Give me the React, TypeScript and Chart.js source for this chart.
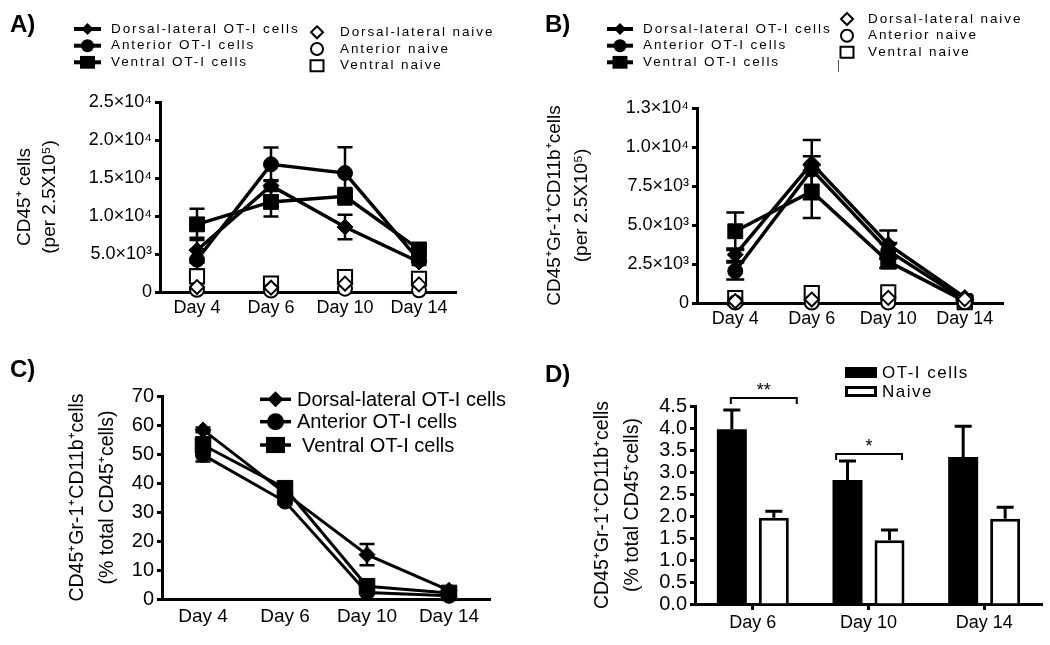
import React, { useEffect, useRef } from 'react';
import { Chart, registerables } from 'chart.js';

Chart.register(...registerables);

const FONT = '"Liberation Sans", Arial, Helvetica, sans-serif';

// ---------- categories ----------
const lineDays = ['Day 4', 'Day 6', 'Day 10', 'Day 14'];
const barDays = ['Day 6', 'Day 10', 'Day 14'];

// ---------- Panel A : CD45+ cells (per 2.5X10^5) ----------
const aDorsalOT = [5500, 14000, 8550, 3950];
const aDorsalOTErr = [1650, 700, 1600, 400];
const aAnteriorOT = [4250, 16800, 15650, 4200];
const aAnteriorOTErr = [1300, 2200, 3400, 400];
const aVentralOT = [8900, 11850, 12600, 5600];
const aVentralOTErr = [2050, 1900, 1100, 800];
const aDorsalNaive = [650, 570, 1100, 1000];
const aAnteriorNaive = [300, 200, 440, 220];
const aVentralNaive = [2060, 1100, 1970, 1750];
const aTickValues = [0, 5000, 10000, 15000, 20000, 25000];
const aTickLabels = ['0', '5.0×10³', '1.0×10⁴', '1.5×10⁴', '2.0×10⁴', '2.5×10⁴'];

// ---------- Panel B : CD45+Gr-1+CD11b+ cells (per 2.5X10^5) ----------
const bDorsalOT = [3100, 8950, 3750, 350];
const bDorsalOTErr = [400, 450, 900, 100];
const bAnteriorOT = [2050, 8550, 3350, 200];
const bAnteriorOTErr = [550, 1900, 500, 100];
const bVentralOT = [4600, 7150, 2650, 120];
const bVentralOTErr = [1200, 1700, 400, 100];
const bDorsalNaive = [120, 220, 330, 250];
const bAnteriorNaive = [30, 30, 30, 50];
const bVentralNaive = [320, 640, 680, 60];
const bTickValues = [0, 2500, 5000, 7500, 10000, 12500];
const bTickLabels = ['0', '2.5×10³', '5.0×10³', '7.5×10³', '1.0×10⁴', '1.3×10⁴'];

// ---------- Panel C : % of total CD45+ cells ----------
const cDorsalOT = [58.3, 36.5, 15.3, 3.0];
const cDorsalOTErr = [0.8, 1.0, 3.7, 0.5];
const cAnteriorOT = [49.7, 33.6, 2.2, 1.1];
const cAnteriorOTErr = [2.3, 1.0, 0.6, 0.3];
const cVentralOT = [53.1, 38.2, 4.4, 2.1];
const cVentralOTErr = [2.7, 1.0, 0.8, 0.4];
const cTickValues = [0, 10, 20, 30, 40, 50, 60, 70];
const cTickLabels = ['0', '10', '20', '30', '40', '50', '60', '70'];

// ---------- Panel D : bars ----------
const dOT = [3.97, 2.82, 3.34];
const dOTErr = [0.44, 0.43, 0.7];
const dNaive = [1.96, 1.45, 1.94];
const dNaiveErr = [0.15, 0.23, 0.26];
const dTickValues = [0, 0.5, 1, 1.5, 2, 2.5, 3, 3.5, 4, 4.5];
const dTickLabels = ['0.0', '0.5', '1.0', '1.5', '2.0', '2.5', '3.0', '3.5', '4.0', '4.5'];
const dSigText = ['**', '*'];
const dSigFrom = [-0.19, 0.72];
const dSigTo = [0.38, 1.29];
const dSigY = [4.68, 3.41];

// ---------- helpers ----------
function lineSet(label: string, data: number[], errors: number[] | null, pointStyle: string, radius: number, filled: boolean, order: number, showLine: boolean, lineWidth: number) {
  return {
    type: 'line',
    label,
    data,
    errors,
    showLine,
    borderColor: '#000',
    borderWidth: lineWidth,
    pointStyle,
    pointRadius: radius,
    pointHoverRadius: radius,
    pointBackgroundColor: filled ? '#000' : '#fff',
    pointBorderColor: '#000',
    pointBorderWidth: filled ? 1 : 2,
    tension: 0,
    clip: false,
    fill: false,
    order,
  };
}

function yScale(o: { values: number[]; labels: string[]; width: number; title: string[]; titleSize: number; titleLH: number; titlePad: number; tickSize: number }) {
  return {
    type: 'linear',
    min: o.values[0],
    max: o.values[o.values.length - 1],
    afterBuildTicks: (s: any) => {
      s.ticks = o.values.map((v) => ({ value: v }));
    },
    afterFit: (s: any) => {
      s.width = o.width;
    },
    ticks: {
      autoSkip: false,
      color: '#000',
      padding: 3,
      font: { family: FONT, size: o.tickSize },
      callback: (v: number) => {
        const i = o.values.indexOf(v);
        return i >= 0 ? o.labels[i] : '';
      },
    },
    grid: { display: true, drawOnChartArea: false, drawTicks: true, tickLength: 5, tickWidth: 3, tickColor: '#000' },
    border: { display: true, color: '#000', width: 3 },
    title: {
      display: true,
      text: o.title,
      color: '#000',
      font: { family: FONT, size: o.titleSize, lineHeight: o.titleLH },
      padding: { top: o.titlePad, bottom: 0 },
    },
  };
}

function xScale(o: { height: number; size: number; padding: number; ticks: boolean }) {
  return {
    type: 'category',
    offset: true,
    afterFit: (s: any) => {
      s.height = o.height;
    },
    ticks: { color: '#000', padding: o.padding, maxRotation: 0, autoSkip: false, font: { family: FONT, size: o.size } },
    grid: { display: true, offset: false, drawOnChartArea: false, drawTicks: o.ticks, tickLength: 6, tickWidth: 3, tickColor: '#000' },
    border: { display: true, color: '#000', width: 3 },
  };
}

function drawErrors(chart: any, mode: 'both' | 'up', capHalf: number, lw: number) {
  const ctx = chart.ctx;
  const ys = chart.scales.y;
  chart.data.datasets.forEach((ds: any, di: number) => {
    const errs = ds.errors;
    if (!errs) return;
    const meta = chart.getDatasetMeta(di);
    meta.data.forEach((el: any, i: number) => {
      const v = ds.data[i];
      const e = errs[i];
      if (!e) return;
      const x = el.x;
      const yTop = ys.getPixelForValue(v + e);
      const yBot = mode === 'up' ? ys.getPixelForValue(v) : ys.getPixelForValue(v - e);
      ctx.save();
      ctx.strokeStyle = '#000';
      ctx.lineWidth = lw;
      ctx.beginPath();
      ctx.moveTo(x, yTop);
      ctx.lineTo(x, yBot);
      ctx.moveTo(x - capHalf, yTop);
      ctx.lineTo(x + capHalf, yTop);
      if (mode === 'both') {
        ctx.moveTo(x - capHalf, yBot);
        ctx.lineTo(x + capHalf, yBot);
      }
      ctx.stroke();
      ctx.restore();
    });
  });
}

function glyph(ctx: CanvasRenderingContext2D, style: string, x: number, y: number, s: number, filled: boolean, lw: number) {
  ctx.beginPath();
  if (style === 'rectRot') {
    ctx.moveTo(x, y - s);
    ctx.lineTo(x + s, y);
    ctx.lineTo(x, y + s);
    ctx.lineTo(x - s, y);
    ctx.closePath();
  } else if (style === 'circle') {
    ctx.arc(x, y, s, 0, Math.PI * 2);
  } else {
    ctx.rect(x - s, y - s * 0.85, 2 * s, 1.7 * s);
  }
  if (filled) {
    ctx.fillStyle = '#000';
    ctx.fill();
  } else {
    ctx.fillStyle = '#fff';
    ctx.fill();
    ctx.lineWidth = lw;
    ctx.strokeStyle = '#000';
    ctx.stroke();
  }
}

function letter(ctx: CanvasRenderingContext2D, t: string, x: number, y: number) {
  ctx.save();
  ctx.font = `bold 24px ${FONT}`;
  ctx.fillStyle = '#000';
  ctx.textBaseline = 'alphabetic';
  ctx.textAlign = 'left';
  ctx.fillText(t, x, y);
  ctx.restore();
}

function prismLegend(chart: any, L: { x0: number; x1: number; tx: number; rows: number[]; mx: number; mtx: number; mrows: number[] }) {
  const ctx: CanvasRenderingContext2D = chart.ctx;
  const ds = chart.data.datasets;
  ctx.save();
  ctx.font = `13.5px ${FONT}`;
  (ctx as any).letterSpacing = '1.9px';
  ctx.textBaseline = 'middle';
  ctx.textAlign = 'left';
  const sizes: Record<string, number> = { rectRot: 6, circle: 6.5, rect: 7.5 };
  for (let i = 0; i < 3; i++) {
    const d = ds[i];
    const y = L.rows[i];
    ctx.strokeStyle = '#000';
    ctx.lineWidth = 4;
    ctx.beginPath();
    ctx.moveTo(L.x0, y);
    ctx.lineTo(L.x1, y);
    ctx.stroke();
    glyph(ctx, d.pointStyle, (L.x0 + L.x1) / 2, y, sizes[d.pointStyle], true, 1);
    ctx.fillStyle = '#000';
    ctx.fillText(d.label, L.tx, y);
  }
  const osizes: Record<string, number> = { rectRot: 6, circle: 6, rect: 6.5 };
  for (let i = 0; i < 3; i++) {
    const d = ds[3 + i];
    const y = L.mrows[i];
    glyph(ctx, d.pointStyle, L.mx, y, osizes[d.pointStyle], false, 2);
    ctx.fillStyle = '#000';
    ctx.fillText(d.label, L.mtx, y);
  }
  ctx.restore();
}

function lineOverlay(capHalf: number, extra: (chart: any) => void) {
  return {
    id: 'overlay',
    beforeDatasetsDraw(chart: any) {
      drawErrors(chart, 'both', capHalf, 2.5);
    },
    afterDraw(chart: any) {
      extra(chart);
    },
  };
}

// ---------- chart builders ----------
function buildA() {
  return {
    type: 'line',
    data: {
      labels: lineDays,
      datasets: [
        lineSet('Dorsal-lateral OT-I cells', aDorsalOT, aDorsalOTErr, 'rectRot', 8, true, 4, true, 3.5),
        lineSet('Anterior OT-I cells', aAnteriorOT, aAnteriorOTErr, 'circle', 7.5, true, 5, true, 3.5),
        lineSet('Ventral OT-I cells', aVentralOT, aVentralOTErr, 'rect', 10.5, true, 6, true, 3.5),
        lineSet('Dorsal-lateral naive', aDorsalNaive, null, 'rectRot', 7, false, 1, false, 2),
        lineSet('Anterior naive', aAnteriorNaive, null, 'circle', 7, false, 2, false, 2),
        lineSet('Ventral naive', aVentralNaive, null, 'rect', 10, false, 3, false, 2),
      ],
    },
    options: {
      animation: false,
      responsive: false,
      events: [],
      layout: { padding: { left: 0, top: 102, right: 64, bottom: 0 } },
      plugins: { legend: { display: false }, tooltip: { enabled: false } },
      scales: {
        x: xScale({ height: 28, size: 18, padding: 5, ticks: false }),
        y: yScale({ values: aTickValues, labels: aTickLabels, width: 160, title: ['CD45⁺ cells', '(per 2.5X10⁵)'], titleSize: 19, titleLH: 25 / 19, titlePad: 12.5, tickSize: 18 }),
      },
    },
    plugins: [
      lineOverlay(7.5, (chart) => {
        letter(chart.ctx, 'A)', 10, 32);
        prismLegend(chart, { x0: 74, x1: 101, tx: 111, rows: [29, 45.7, 62.3], mx: 317, mtx: 340, mrows: [32.3, 49, 65.7] });
      }),
    ],
  };
}

function buildB() {
  return {
    type: 'line',
    data: {
      labels: lineDays,
      datasets: [
        lineSet('Dorsal-lateral OT-I cells', bDorsalOT, bDorsalOTErr, 'rectRot', 8, true, 4, true, 3.5),
        lineSet('Anterior OT-I cells', bAnteriorOT, bAnteriorOTErr, 'circle', 7.5, true, 5, true, 3.5),
        lineSet('Ventral OT-I cells', bVentralOT, bVentralOTErr, 'rect', 10.5, true, 6, true, 3.5),
        lineSet('Dorsal-lateral naive', bDorsalNaive, null, 'rectRot', 7, false, 1, false, 2),
        lineSet('Anterior naive', bAnteriorNaive, null, 'circle', 7, false, 2, false, 2),
        lineSet('Ventral naive', bVentralNaive, null, 'rect', 10, false, 3, false, 2),
      ],
    },
    options: {
      animation: false,
      responsive: false,
      events: [],
      layout: { padding: { left: 0, top: 108, right: 47, bottom: 0 } },
      plugins: { legend: { display: false }, tooltip: { enabled: false } },
      scales: {
        x: xScale({ height: 37, size: 18, padding: 5, ticks: false }),
        y: yScale({ values: bTickValues, labels: bTickLabels, width: 177, title: ['CD45⁺Gr-1⁺CD11b⁺cells', '(per 2.5X10⁵)'], titleSize: 19, titleLH: 27 / 19, titlePad: 21.5, tickSize: 18 }),
      },
    },
    plugins: [
      lineOverlay(9, (chart) => {
        letter(chart.ctx, 'B)', 25, 32);
        prismLegend(chart, { x0: 87, x1: 113, tx: 123, rows: [29, 45.7, 62.3], mx: 327, mtx: 348, mrows: [19, 35.7, 52.3] });
        const ctx = chart.ctx;
        ctx.save();
        ctx.strokeStyle = '#555';
        ctx.lineWidth = 1;
        ctx.beginPath();
        ctx.moveTo(318.5, 60);
        ctx.lineTo(318.5, 72);
        ctx.stroke();
        ctx.restore();
      }),
    ],
  };
}

function buildC() {
  return {
    type: 'line',
    data: {
      labels: lineDays,
      datasets: [
        lineSet('Dorsal-lateral OT-I cells', cDorsalOT, cDorsalOTErr, 'rectRot', 8, true, 1, true, 3),
        lineSet('Anterior OT-I cells', cAnteriorOT, cAnteriorOTErr, 'circle', 7.5, true, 2, true, 3),
        lineSet('Ventral OT-I cells', cVentralOT, cVentralOTErr, 'rect', 11, true, 3, true, 3),
      ],
    },
    options: {
      animation: false,
      responsive: false,
      events: [],
      layout: { padding: { left: 0, top: 76, right: 30, bottom: 0 } },
      plugins: { legend: { display: false }, tooltip: { enabled: false } },
      scales: {
        x: xScale({ height: 46, size: 19, padding: 6, ticks: false }),
        y: yScale({ values: cTickValues, labels: cTickLabels, width: 162, title: ['CD45⁺Gr-1⁺CD11b⁺cells', '(% total CD45⁺cells)'], titleSize: 19.5, titleLH: 30 / 19.5, titlePad: 63, tickSize: 20 }),
      },
    },
    plugins: [
      lineOverlay(7.5, (chart) => {
        const ctx: CanvasRenderingContext2D = chart.ctx;
        letter(ctx, 'C)', 10, 57);
        const ds = chart.data.datasets;
        const rows = [79.3, 101.7, 125];
        const sizes: Record<string, number> = { rectRot: 8, circle: 8.5, rect: 9.5 };
        ctx.save();
        ctx.font = `20px ${FONT}`;
        ctx.textBaseline = 'middle';
        ctx.textAlign = 'left';
        for (let i = 0; i < 3; i++) {
          const y = rows[i];
          ctx.strokeStyle = '#000';
          ctx.lineWidth = 3.5;
          ctx.beginPath();
          ctx.moveTo(260, y);
          ctx.lineTo(291, y);
          ctx.stroke();
          glyph(ctx, ds[i].pointStyle, 275.5, y, sizes[ds[i].pointStyle], true, 1);
          ctx.fillStyle = '#000';
          ctx.fillText(ds[i].label, i === 2 ? 302 : 297, y + 1);
        }
        ctx.restore();
      }),
    ],
  };
}

function buildD() {
  return {
    type: 'bar',
    data: {
      labels: barDays,
      datasets: [
        { label: 'OT-I cells', data: dOT, errors: dOTErr, backgroundColor: '#000', borderColor: '#000', borderWidth: 0, barPercentage: 0.714, categoryPercentage: 0.726 },
        { label: 'Naive', data: dNaive, errors: dNaiveErr, backgroundColor: '#fff', borderColor: '#000', borderWidth: 3, barPercentage: 0.714, categoryPercentage: 0.726 },
      ],
    },
    options: {
      animation: false,
      responsive: false,
      events: [],
      layout: { padding: { left: 0, top: 66, right: 8, bottom: 0 } },
      plugins: { legend: { display: false }, tooltip: { enabled: false } },
      scales: {
        x: xScale({ height: 41, size: 18, padding: 2, ticks: true }),
        y: yScale({ values: dTickValues, labels: dTickLabels, width: 175, title: ['CD45⁺Gr-1⁺CD11b⁺cells', '(% total CD45⁺cells)'], titleSize: 19.5, titleLH: 30 / 19.5, titlePad: 68, tickSize: 20 }),
      },
    },
    plugins: [
      {
        id: 'overlayD',
        afterDatasetsDraw(chart: any) {
          drawErrors(chart, 'up', 8.5, 3);
        },
        afterDraw(chart: any) {
          const ctx: CanvasRenderingContext2D = chart.ctx;
          letter(ctx, 'D)', 25, 42);
          const xs = chart.scales.x;
          const ys = chart.scales.y;
          ctx.save();
          ctx.strokeStyle = '#000';
          ctx.lineWidth = 2;
          ctx.fillStyle = '#000';
          ctx.textAlign = 'center';
          ctx.textBaseline = 'middle';
          ctx.font = `18px ${FONT}`;
          for (let i = 0; i < dSigText.length; i++) {
            const x0 = xs.getPixelForValue(dSigFrom[i]);
            const x1 = xs.getPixelForValue(dSigTo[i]);
            const y = ys.getPixelForValue(dSigY[i]);
            ctx.beginPath();
            ctx.moveTo(x0, y + 6);
            ctx.lineTo(x0, y);
            ctx.lineTo(x1, y);
            ctx.lineTo(x1, y + 6);
            ctx.stroke();
            ctx.fillText(dSigText[i], (x0 + x1) / 2, y - 7);
          }
          // legend
          const ds = chart.data.datasets;
          ctx.fillStyle = '#000';
          ctx.fillRect(325, 27, 32, 11);
          ctx.fillStyle = '#fff';
          ctx.lineWidth = 3;
          ctx.fillRect(326.5, 47.5, 29, 8);
          ctx.strokeRect(326.5, 47.5, 29, 8);
          ctx.fillStyle = '#000';
          ctx.textAlign = 'left';
          ctx.font = `17px ${FONT}`;
          (ctx as any).letterSpacing = '1.5px';
          ctx.fillText(ds[0].label, 362, 33);
          ctx.fillText(ds[1].label, 362, 52);
          ctx.restore();
        },
      },
    ],
  };
}

function Panel(props: { left: number; top: number; width: number; height: number; build: () => any }) {
  const ref = useRef<HTMLCanvasElement>(null);
  useEffect(() => {
    const chart = new Chart(ref.current as HTMLCanvasElement, props.build());
    return () => chart.destroy();
  }, []);
  return (
    <canvas
      ref={ref}
      width={props.width}
      height={props.height}
      style={{ position: 'absolute', left: props.left, top: props.top, width: props.width, height: props.height }}
    />
  );
}

export default function App() {
  return (
    <div style={{ position: 'absolute', left: 0, top: 0, width: 1050, height: 645, background: '#fff', overflow: 'hidden' }}>
      <Panel left={0} top={0} width={520} height={320} build={buildA} />
      <Panel left={520} top={0} width={530} height={340} build={buildB} />
      <Panel left={0} top={320} width={520} height={325} build={buildC} />
      <Panel left={520} top={340} width={530} height={305} build={buildD} />
    </div>
  );
}
